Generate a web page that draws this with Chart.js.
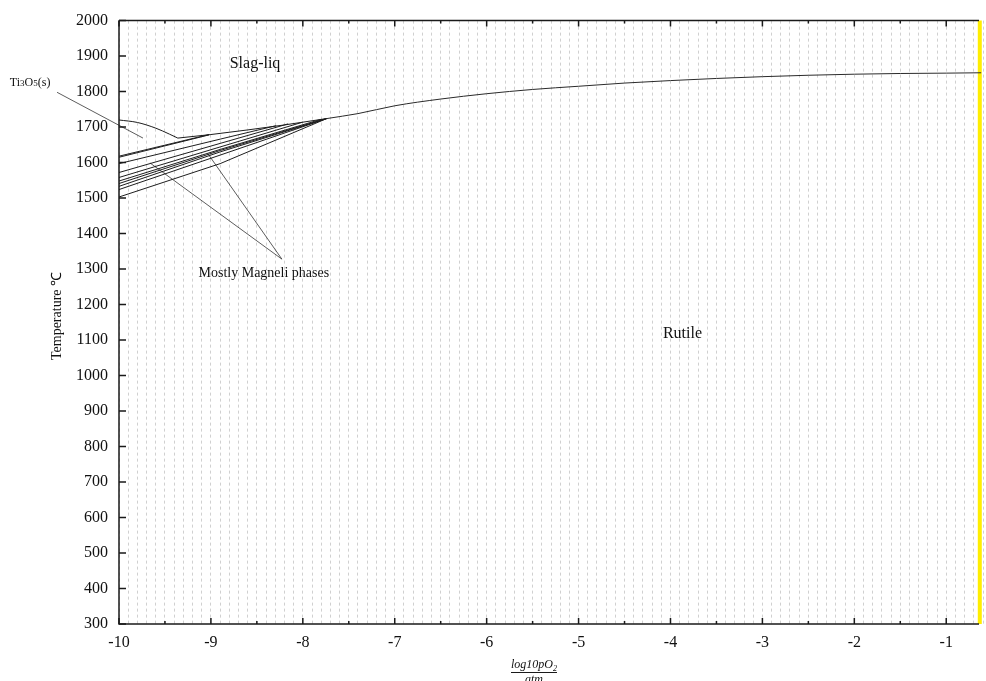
<!DOCTYPE html>
<html>
<head>
<meta charset="utf-8">
<script src="https://cdn.jsdelivr.net/npm/chart.js@4.4.1/dist/chart.umd.min.js"></script>
<style>
  body { margin: 0; background: #fff; }
  #diagrama { display: block; }
</style>
</head>
<body>
<canvas id="diagrama" width="986" height="681"></canvas>
<script>
// liquidus (Slag-liq / Rutile)
const liquidusX = [-7.74, -7.4, -7.0, -6.5, -6.0, -5.5, -5.0, -4.5, -4.0, -3.5, -3.0, -2.5, -2.0, -1.5, -1.0, -0.62]
const liquidusT = [1724, 1738, 1760, 1779, 1794, 1806, 1815, 1824, 1831, 1837, 1842, 1846, 1849, 1851, 1852, 1853]

// Ti3O5(s) field upper boundary
const ti3o5X = [-10.0, -9.8, -9.6, -9.45, -9.36]
const ti3o5T = [1720, 1713, 1697, 1680, 1669]

// boundary from Ti3O5 corner up to the liquidus
const limiteX = [-9.36, -9.0, -8.6, -8.2, -7.74]
const limiteT = [1669, 1679, 1692, 1706, 1724]

// Magneli phase lines (start at x = -10, pass x = -8.9, end on the boundary)
const fanStartX = -10
const fanMidX = -8.9
const fanStartT = [1618, 1615, 1597, 1572, 1558, 1548, 1541, 1533, 1524, 1503]
const fanMidT = [null, null, 1666, 1654, 1644, 1637, 1634, 1630, 1621, 1597]
const fanEndX = [-9.02, -9.02, -8.29, -8.16, -8.0, -7.8, -7.76, -7.74, -7.74, -7.74]
const fanEndT = [1679, 1678, 1704, 1709, 1714, 1722, 1723, 1724, 1724, 1724]

// annotation leader lines
const setaTiX = [-10.674, -9.739]
const setaTiT = [1798, 1669]
const setaMagX = [-9.663, -8.228, -9.033]
const setaMagT = [1599, 1328, 1625]

// yellow marker at the right edge
const amareloX = [-0.635, -0.635]
const amareloT = [300, 2000]

// text labels
const rotulos = ['Slag-liq', 'Mostly Magneli phases', 'Rutile']
const rotuloX = [-8.52, -8.424, -3.87]
const rotuloT = [1878, 1288, 1118]
const rotuloTam = [16, 14, 16]
const tiX = -10.967
const tiT = 1826

const xMin = -10
const xMax = -0.6
const yMin = 300
const yMax = 2000

const serif = "'Liberation Serif', 'Times New Roman', serif"

linha = (xs, ys, extra) => {
    const pts = []
    xs.forEach((x, i) => { if (ys[i] !== null) pts.push({ x: x, y: ys[i] }) })
    return Object.assign({
        type: 'scatter',
        data: pts,
        showLine: true,
        pointRadius: 0,
        borderColor: '#1e1e1e',
        borderWidth: 1,
        fill: false
    }, extra || {})
}

const datasets = []
datasets.push(linha(liquidusX, liquidusT, { cubicInterpolationMode: 'monotone', borderColor: '#2a2a2a' }))
datasets.push(linha(ti3o5X, ti3o5T, { cubicInterpolationMode: 'monotone' }))
datasets.push(linha(limiteX, limiteT, { cubicInterpolationMode: 'monotone' }))
fanStartT.forEach((t, i) => {
    datasets.push(linha([fanStartX, fanMidX, fanEndX[i]], [t, fanMidT[i], fanEndT[i]]))
})
datasets.push(linha(setaTiX, setaTiT, { clip: false, borderColor: '#333', borderWidth: 0.8 }))
datasets.push(linha(setaMagX, setaMagT, { borderColor: '#333', borderWidth: 0.8 }))
datasets.push(linha(amareloX, amareloT, { clip: false, borderColor: '#ffee00', borderWidth: 4 }))

const extras = {
    id: 'extras',
    afterDraw(chart) {
        const ctx = chart.ctx
        const a = chart.chartArea
        const sx = chart.scales.x
        const sy = chart.scales.y
        ctx.save()

        // frame
        ctx.strokeStyle = '#1a1a1a'
        ctx.lineWidth = 1.5
        ctx.beginPath()
        ctx.moveTo(a.left, a.top)
        ctx.lineTo(a.right - 4, a.top)
        ctx.moveTo(a.left, a.top)
        ctx.lineTo(a.left, a.bottom)
        ctx.lineTo(a.right - 4, a.bottom)
        ctx.stroke()

        // inward ticks
        ctx.beginPath()
        for (let k = -20; k <= -2; k++) {
            const px = sx.getPixelForValue(k / 2)
            const len = (k % 2 === 0) ? 6 : 3
            ctx.moveTo(px, a.bottom)
            ctx.lineTo(px, a.bottom - len)
            ctx.moveTo(px, a.top)
            ctx.lineTo(px, a.top + len)
        }
        for (let t = yMin; t <= yMax; t += 100) {
            const py = sy.getPixelForValue(t)
            ctx.moveTo(a.left, py)
            ctx.lineTo(a.left + 7, py)
        }
        ctx.stroke()

        // labels inside plot
        ctx.fillStyle = '#111'
        ctx.textAlign = 'center'
        ctx.textBaseline = 'middle'
        rotulos.forEach((txt, i) => {
            ctx.font = rotuloTam[i] + 'px ' + serif
            ctx.fillText(txt, sx.getPixelForValue(rotuloX[i]), sy.getPixelForValue(rotuloT[i]))
        })

        // Ti3O5(s) with small digits
        const partes = [['Ti', 12], ['3', 9], ['O', 12], ['5', 9], ['(s)', 12]]
        let larg = 0
        partes.forEach(p => { ctx.font = p[1] + 'px ' + serif; larg += ctx.measureText(p[0]).width })
        let px0 = sx.getPixelForValue(tiX) - larg / 2
        const py0 = sy.getPixelForValue(tiT) + 4
        ctx.textAlign = 'left'
        ctx.textBaseline = 'alphabetic'
        partes.forEach(p => {
            ctx.font = p[1] + 'px ' + serif
            ctx.fillText(p[0], px0, py0)
            px0 += ctx.measureText(p[0]).width
        })

        // y title
        ctx.save()
        ctx.translate(57, 316)
        ctx.rotate(-Math.PI / 2)
        ctx.textAlign = 'center'
        ctx.textBaseline = 'middle'
        ctx.font = '14px ' + serif
        ctx.fillText('Temperature \u2103', 0, 0)
        ctx.restore()

        // x title as fraction
        const cx = 534
        const numY = 668
        ctx.font = 'italic 12px ' + serif
        const num = 'log10pO'
        const wNum = ctx.measureText(num).width
        ctx.font = 'italic 8px ' + serif
        const wSub = ctx.measureText('2').width
        const total = wNum + wSub
        ctx.textAlign = 'left'
        ctx.textBaseline = 'alphabetic'
        ctx.font = 'italic 12px ' + serif
        ctx.fillText(num, cx - total / 2, numY)
        ctx.font = 'italic 8px ' + serif
        ctx.fillText('2', cx - total / 2 + wNum, numY + 3)
        ctx.lineWidth = 1
        ctx.beginPath()
        ctx.moveTo(cx - total / 2, numY + 4.5)
        ctx.lineTo(cx + total / 2, numY + 4.5)
        ctx.stroke()
        ctx.font = 'italic 12px ' + serif
        ctx.textAlign = 'center'
        ctx.fillText('atm', cx, numY + 15)

        ctx.restore()
    }
}

const config = {
    type: 'scatter',
    data: { datasets: datasets },
    options: {
        responsive: false,
        animation: false,
        devicePixelRatio: 1,
        layout: { padding: { top: 19, right: 3, left: 0, bottom: 0 } },
        plugins: {
            legend: { display: false },
            tooltip: { enabled: false }
        },
        scales: {
            x: {
                type: 'linear',
                min: xMin,
                max: xMax,
                afterFit: (scale) => {
                    scale.height = 57
                    scale.paddingLeft = 0
                    scale.paddingRight = 0
                },
                ticks: {
                    stepSize: 0.1,
                    autoSkip: false,
                    maxRotation: 0,
                    padding: 9,
                    color: '#111',
                    font: { family: serif, size: 16 },
                    callback: (v) => Math.abs(v - Math.round(v)) < 1e-6 ? String(Math.round(v)) : ''
                },
                grid: {
                    display: true,
                    drawTicks: false,
                    color: '#d0d0d0',
                    lineWidth: 1
                },
                border: { display: false, dash: [3, 3] }
            },
            y: {
                type: 'linear',
                min: yMin,
                max: yMax,
                afterFit: (scale) => { scale.width = 119 },
                ticks: {
                    stepSize: 100,
                    padding: 11,
                    color: '#111',
                    font: { family: serif, size: 16 },
                    callback: (v) => String(v)
                },
                grid: { display: false, drawTicks: false },
                border: { display: false }
            }
        }
    },
    plugins: [extras]
}

const myChart = new Chart(document.getElementById('diagrama'), config)
</script>
</body>
</html>
